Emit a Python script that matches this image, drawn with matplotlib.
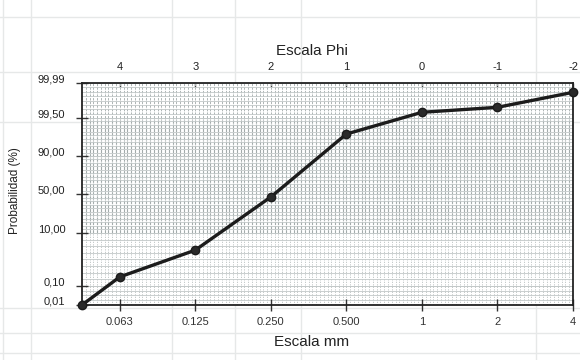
import numpy as np
import matplotlib
matplotlib.use("Agg")
import matplotlib.pyplot as plt
from matplotlib.lines import Line2D
from matplotlib.ticker import FixedLocator
from matplotlib.transforms import ScaledTranslation

plt.rcParams['font.family'] = ['Liberation Sans', 'DejaVu Sans']

# data: phi values of the sieves and cumulative probability (%)
phi = [4.5, 4, 3, 2, 1, 0, -1, -2]
prob = [0.01, 1.8, 6.8, 47.0, 95.5, 99.58, 99.65, 99.86]

# axis labels
phi_ticks = [4, 3, 2, 1, 0, -1, -2]
mm_labels = ['0.063', '0.125', '0.250', '0.500', '1', '2', '4']
prob_ticks = [0.01, 0.10, 10.0, 50.0, 90.0, 99.50, 99.99]
prob_labels = ['0,01', '0,10', '10,00', '50,00', '90,00', '99,50', '99,99']
# vertical spacing (pixels) of the hand made probability scale
prob_pos = [0, 19, 72, 111, 149, 187, 222]


def fwd(v):
    return np.interp(v, prob_ticks, prob_pos)


def inv(p):
    return np.interp(p, prob_pos, prob_ticks)


fig = plt.figure(figsize=(5.8, 3.6), dpi=100)
fig.patch.set_facecolor('white')

# faint spreadsheet cell lines in the scan
for xv in [0.005, 0.053, 0.296, 0.405, 0.519, 0.924]:
    fig.add_artist(Line2D([xv, xv], [0, 1], color='#e6e8e8', lw=1.0, zorder=0))
for yv in [0.953, 0.800, 0.661, 0.144, 0.075, 0.019]:
    fig.add_artist(Line2D([0, 1], [yv, yv], color='#e6e8e8', lw=1.0, zorder=0))

ax = fig.add_axes([0.1414, 0.1528, 0.8466, 0.6166])
ax.set_yscale('function', functions=(fwd, inv))
ax.set_xlim(4.5, -2)
ax.set_ylim(0.01, 99.99)

# dense grid of the probability paper
vgrid = np.arange(-2, 4.5, 0.05)
hgrid = np.concatenate([
    np.linspace(0.01, 0.10, 5),
    np.linspace(0.10, 10.0, 9),
    np.linspace(10.0, 50.0, 12),
    np.linspace(50.0, 90.0, 12),
    np.linspace(90.0, 99.5, 12),
    np.linspace(99.5, 99.99, 9),
])
ax.vlines(vgrid, 0.01, 10.0, color='#bcc2c2', lw=0.6, ls=(0, (1.5, 1.5)), zorder=1)
ax.vlines(vgrid, 10.0, 99.5, color='#a3abab', lw=0.8, ls=(0, (3, 0.8)), zorder=1)
ax.vlines(vgrid, 99.5, 99.99, color='#adb4b4', lw=0.7, ls=(0, (2.5, 1.2)), zorder=1)
for yv in hgrid:
    ax.axhline(yv, color='#c2c8c8', lw=0.6, zorder=1)

ax.plot(phi, prob, color='#1c1c1c', lw=2.4, marker='o', ms=6,
        mfc='#2a2a2a', mec='#1c1c1c', zorder=5, clip_on=False)

ax.set_xticks(phi_ticks)
ax.set_xticklabels(mm_labels)
ax.yaxis.set_major_locator(FixedLocator(prob_ticks))
ax.set_yticklabels(prob_labels)
ax.tick_params(axis='x', direction='inout', length=9, width=1, color='#333',
               labelsize=8, labelcolor='#333', pad=4)
ax.tick_params(axis='y', direction='inout', length=8, width=1, color='#333',
               labelsize=8, labelcolor='#222', pad=8)
for lab in ax.get_yticklabels():
    lab.set_transform(lab.get_transform() + ScaledTranslation(0, 3 / 72, fig.dpi_scale_trans))

top = ax.secondary_xaxis('top')
top.set_xticks(phi_ticks)
top.set_xticklabels([str(p) for p in phi_ticks])
top.tick_params(direction='in', length=3, width=1, color='#333',
                labelsize=8, labelcolor='#222', pad=8)
top.spines['top'].set_visible(False)

for s in ax.spines.values():
    s.set_color('#222')
    s.set_linewidth(1.3)

fig.text(0.538, 0.858, 'Escala Phi', ha='center', va='center', fontsize=11, color='#222')
fig.text(0.538, 0.050, 'Escala mm', ha='center', va='center', fontsize=11, color='#222')
fig.text(0.026, 0.472, 'Probabilidad (%)', ha='center', va='center',
         rotation=90, fontsize=8.5, color='#222')

fig.savefig('out.png', dpi=100)
